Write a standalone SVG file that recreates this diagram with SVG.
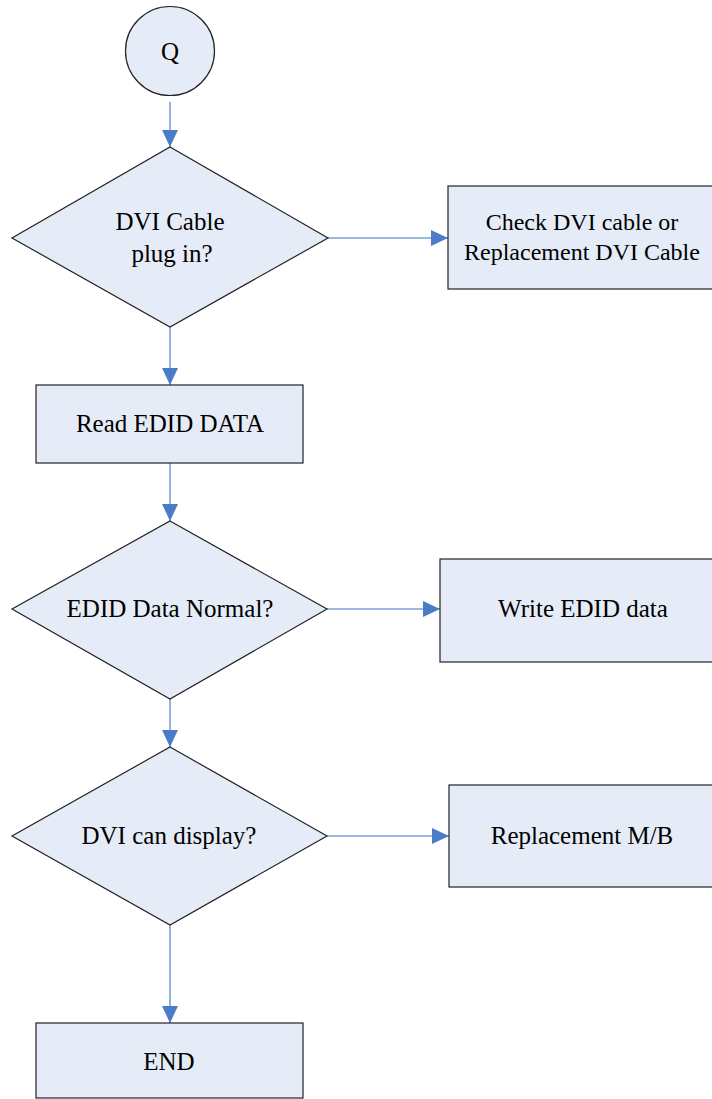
<svg xmlns="http://www.w3.org/2000/svg" width="712" height="1099" viewBox="0 0 712 1099">
<style>
.shape{fill:#E6ECF7;stroke:#222;stroke-width:1.2}
.lbl{font-family:'Liberation Serif','Times New Roman',Times,'DejaVu Serif',serif;font-size:25px;fill:#000;text-anchor:middle}
.sm{font-size:24px}
.conn{stroke:#7C9ED8;stroke-width:1.6;fill:none;marker-end:url(#ah)}
</style>
<defs>
<marker id="ah" markerUnits="userSpaceOnUse" markerWidth="17" markerHeight="16" refX="17" refY="8" orient="auto">
<path d="M0,0 L17,8 L0,16 z" fill="#4A7CC7"/>
</marker>
</defs>
<rect width="712" height="1099" fill="#fff"/>
<g id="connectors">
<line class="conn" x1="170" y1="102" x2="170" y2="147"/>
<line class="conn" x1="170" y1="327" x2="170" y2="385"/>
<line class="conn" x1="170" y1="463" x2="170" y2="521"/>
<line class="conn" x1="170" y1="699" x2="170" y2="747"/>
<line class="conn" x1="170" y1="925" x2="170" y2="1023"/>
<line class="conn" x1="328" y1="238" x2="448" y2="238"/>
<line class="conn" x1="327" y1="609" x2="440" y2="609"/>
<line class="conn" x1="327" y1="836" x2="449" y2="836"/>
</g>
<g font-family="Liberation Serif, serif">
<g id="start">
<circle class="shape" cx="170" cy="51" r="44.5"/>
<text class="lbl" x="170" y="60">Q</text>
</g>
<g id="d1">
<polygon class="shape" points="170,147 328,238 170,327 12,238"/>
<text class="lbl" x="170" y="230">DVI Cable</text>
<text class="lbl" x="172" y="262">plug in?</text>
</g>
<g id="check">
<rect class="shape" x="448" y="186" width="266" height="103"/>
<text class="lbl sm" x="582" y="230">Check DVI cable or</text>
<text class="lbl sm" x="582" y="260">Replacement DVI Cable</text>
</g>
<g id="read">
<rect class="shape" x="36" y="385" width="267" height="78"/>
<text class="lbl" x="170" y="432">Read EDID DATA</text>
</g>
<g id="d2">
<polygon class="shape" points="170,521 327,609 170,699 12,609"/>
<text class="lbl" x="170" y="617">EDID Data Normal?</text>
</g>
<g id="write">
<rect class="shape" x="440" y="559" width="274" height="103"/>
<text class="lbl" x="583" y="617">Write EDID data</text>
</g>
<g id="d3">
<polygon class="shape" points="170,747 327,836 170,925 12,836"/>
<text class="lbl" x="169" y="844">DVI can display?</text>
</g>
<g id="replace">
<rect class="shape" x="449" y="785" width="265" height="102"/>
<text class="lbl" x="582" y="844">Replacement M/B</text>
</g>
<g id="end">
<rect class="shape" x="36" y="1023" width="267" height="75"/>
<text class="lbl" x="169" y="1070">END</text>
</g>
</g>
</svg>
